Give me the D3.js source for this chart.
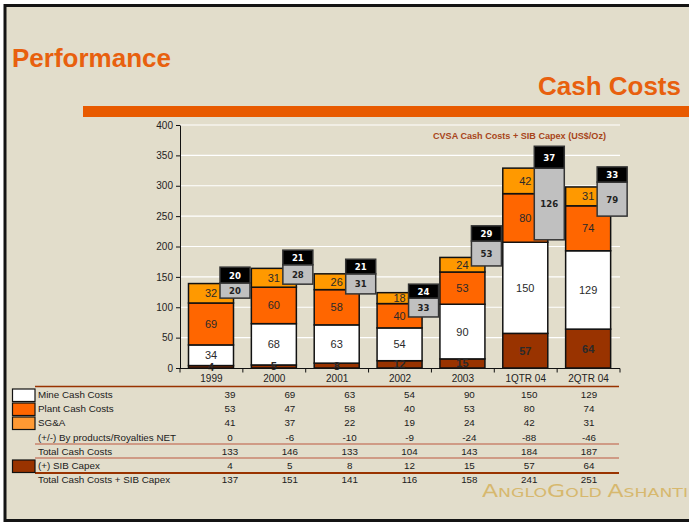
<!DOCTYPE html>
<html>
<head>
<meta charset="utf-8">
<script src="https://cdn.jsdelivr.net/npm/d3@7/dist/d3.min.js"></script>
<style>
  body { margin: 0; background: #fff; }
  svg text { font-family: "Liberation Sans", Arial, sans-serif; }
</style>
</head>
<body>
<div id="chart"></div>
<script>
// categories and axis ticks
var categories = ["1999", "2000", "2001", "2002", "2003", "1QTR 04", "2QTR 04"];
var yTicks = [0, 50, 100, 150, 200, 250, 300, 350, 400];

// stacked bar segments as labelled on the chart (bottom to top)
var chartSib = [4, 5, 8, 12, 15, 57, 64];
var chartMine = [34, 68, 63, 54, 90, 150, 129];
var chartPlant = [69, 60, 58, 40, 53, 80, 74];
var chartSga = [32, 31, 26, 18, 24, 42, 31];

// floating grey / black boxes, extents, plus their labels
var greyLow = [115, 138, 122, 84, 168, 211, 250];
var greyHigh = [140, 170, 155, 115, 209, 329, 306];
var blackHigh = [166, 194, 179, 138, 234, 365, 331];
var greyLabels = [20, 28, 31, 33, 53, 126, 79];
var blackLabels = [20, 21, 21, 24, 29, 37, 33];

// table rows
var rowNames = ["Mine Cash Costs", "Plant Cash Costs", "SG&A", "(+/-) By products/Royalties NET",
  "Total Cash Costs", "(+) SIB Capex", "Total Cash Costs + SIB Capex"];
var mineCash = [39, 69, 63, 54, 90, 150, 129];
var plantCash = [53, 47, 58, 40, 53, 80, 74];
var sgaCost = [41, 37, 22, 19, 24, 42, 31];
var byProducts = [0, -6, -10, -9, -24, -88, -46];
var totalCash = [133, 146, 133, 104, 143, 184, 187];
var sibCapex = [4, 5, 8, 12, 15, 57, 64];
var totalWithSib = [137, 151, 141, 116, 158, 241, 251];

var colors = {sib: "#993300", mine: "#ffffff", plant: "#ff6600", sga: "#ff9900"};

var svg = d3.select("#chart").append("svg")
  .attr("width", 689)
  .attr("height", 522);

// slide background + frame
svg.append("rect")
  .attr("x", 5).attr("y", 5.5)
  .attr("width", 700).attr("height", 515)
  .attr("fill", "#e2ddcb")
  .attr("stroke", "#141414")
  .attr("stroke-width", 3);

svg.append("text")
  .attr("x", 12).attr("y", 67)
  .attr("font-size", 26).attr("font-weight", "bold")
  .attr("fill", "#e8600e")
  .text("Performance");

svg.append("text")
  .attr("x", 681).attr("y", 95)
  .attr("text-anchor", "end")
  .attr("font-size", 26).attr("font-weight", "bold")
  .attr("fill", "#e8600e")
  .text("Cash Costs");

svg.append("rect")
  .attr("x", 83).attr("y", 106)
  .attr("width", 606).attr("height", 11)
  .attr("fill", "#e85a00");

// scales
var x = d3.scaleBand().domain(categories).range([180, 620]);
var y = d3.scaleLinear().domain([0, 400]).range([368, 125]);

var mainOffset = 8.5, mainWidth = 45;
var boxOffset = 40, boxWidth = 30;

// gridlines
svg.append("g")
  .selectAll("line")
  .data(yTicks.slice(1))
  .enter()
  .append("line")
    .attr("x1", 180).attr("x2", 620)
    .attr("y1", function(d) { return y(d); })
    .attr("y2", function(d) { return y(d); })
    .attr("stroke", "#ffffff")
    .attr("stroke-width", 1.2);

svg.append("text")
  .attr("x", 433).attr("y", 139)
  .attr("font-size", 9).attr("font-weight", "bold")
  .attr("textLength", 173)
  .attr("lengthAdjust", "spacingAndGlyphs")
  .attr("fill", "#a8451a")
  .text("CVSA Cash Costs + SIB Capex (US$/Oz)");

// stacked bars
var stackData = categories.map(function(c, i) {
  return {cat: c, sib: chartSib[i], mine: chartMine[i], plant: chartPlant[i], sga: chartSga[i]};
});
var series = d3.stack().keys(["sib", "mine", "plant", "sga"])(stackData);

var layers = svg.append("g").selectAll("g")
  .data(series)
  .enter()
  .append("g")
    .attr("fill", function(d) { return colors[d.key]; });

layers.selectAll("rect")
  .data(function(d) { return d; })
  .enter()
  .append("rect")
    .attr("x", function(d) { return x(d.data.cat) + mainOffset; })
    .attr("width", mainWidth)
    .attr("y", function(d) { return y(d[1]); })
    .attr("height", function(d) { return y(d[0]) - y(d[1]); })
    .attr("stroke", "#111")
    .attr("stroke-width", 1.5);

// floating grey + black boxes
var boxes = svg.append("g");
boxes.selectAll("rect.grey")
  .data(categories)
  .enter()
  .append("rect")
    .attr("class", "grey")
    .attr("x", function(d) { return x(d) + boxOffset; })
    .attr("width", boxWidth)
    .attr("y", function(d, i) { return y(greyHigh[i]); })
    .attr("height", function(d, i) { return y(greyLow[i]) - y(greyHigh[i]); })
    .attr("fill", "#c0c0c0")
    .attr("stroke", "#333")
    .attr("stroke-width", 1.5);

boxes.selectAll("rect.black")
  .data(categories)
  .enter()
  .append("rect")
    .attr("class", "black")
    .attr("x", function(d) { return x(d) + boxOffset; })
    .attr("width", boxWidth)
    .attr("y", function(d, i) { return y(blackHigh[i]); })
    .attr("height", function(d, i) { return y(greyHigh[i]) - y(blackHigh[i]); })
    .attr("fill", "#000")
    .attr("stroke", "#333")
    .attr("stroke-width", 1.5);

// segment labels
series.forEach(function(s) {
  svg.append("g").selectAll("text")
    .data(s)
    .enter()
    .append("text")
      .attr("x", function(d) { return x(d.data.cat) + mainOffset + mainWidth / 2; })
      .attr("y", function(d) { return (y(d[0]) + y(d[1])) / 2 + 4; })
      .attr("text-anchor", "middle")
      .attr("font-size", 11)
      .attr("font-weight", s.key === "sib" ? "bold" : "normal")
      .attr("fill", "#2a2a2a")
      .text(function(d) { return d.data[s.key]; });
});

boxes.selectAll("text.grey")
  .data(categories)
  .enter()
  .append("text")
    .attr("x", function(d) { return x(d) + boxOffset + boxWidth / 2; })
    .attr("y", function(d, i) { return (y(greyLow[i]) + y(greyHigh[i])) / 2 + 3.5; })
    .attr("text-anchor", "middle")
    .attr("font-size", 9.5).attr("font-weight", "bold")
    .style("font-family", "'Liberation Sans Narrow', 'DejaVu Sans Condensed', sans-serif")
    .attr("fill", "#222")
    .text(function(d, i) { return greyLabels[i]; });

boxes.selectAll("text.black")
  .data(categories)
  .enter()
  .append("text")
    .attr("x", function(d) { return x(d) + boxOffset + boxWidth / 2; })
    .attr("y", function(d, i) { return (y(greyHigh[i]) + y(blackHigh[i])) / 2 + 3.5; })
    .attr("text-anchor", "middle")
    .attr("font-size", 9.5).attr("font-weight", "bold")
    .style("font-family", "'Liberation Sans Narrow', 'DejaVu Sans Condensed', sans-serif")
    .attr("fill", "#fff")
    .text(function(d, i) { return blackLabels[i]; });

// y axis
var yAxis = d3.axisLeft(y).tickValues(yTicks).tickSize(4).tickSizeOuter(0);
var gy = svg.append("g")
  .attr("transform", "translate(180,0)")
  .call(yAxis);
gy.selectAll("text").attr("font-size", 10).attr("fill", "#222")
  .style("font-family", "'Liberation Sans', Arial, sans-serif");
gy.selectAll("line, path").attr("stroke", "#111");

// x axis: ticks at band edges, labels at band centres
var gx = svg.append("g");
gx.append("line")
  .attr("x1", 180).attr("x2", 620)
  .attr("y1", 368.5).attr("y2", 368.5)
  .attr("stroke", "#111");
gx.selectAll("line.tick")
  .data(categories.concat(["end"]))
  .enter()
  .append("line")
    .attr("x1", function(d, i) { return i < categories.length ? x(d) : x.range()[1]; })
    .attr("x2", function(d, i) { return i < categories.length ? x(d) : x.range()[1]; })
    .attr("y1", 368.5).attr("y2", 372.5)
    .attr("stroke", "#111");
gx.selectAll("text")
  .data(categories)
  .enter()
  .append("text")
    .attr("x", function(d) { return x(d) + x.bandwidth() / 2; })
    .attr("y", 382)
    .attr("text-anchor", "middle")
    .attr("font-size", 10)
    .attr("fill", "#222")
    .text(function(d) { return d; });

// data table
var tableRows = [mineCash, plantCash, sgaCost, byProducts, totalCash, sibCapex, totalWithSib];
var rowY = [398, 412, 426, 440.5, 455, 469, 483];
var col = d3.scalePoint().domain(categories).range([230, 589]);

var rules = [
  {y: 386.5, color: "#993300", w: 1.5},
  {y: 444, color: "#cf9a85", w: 2},
  {y: 458, color: "#cf9a85", w: 2},
  {y: 473, color: "#993300", w: 2}
];
svg.append("g").selectAll("line")
  .data(rules)
  .enter()
  .append("line")
    .attr("x1", 35).attr("x2", 619)
    .attr("y1", function(d) { return d.y; })
    .attr("y2", function(d) { return d.y; })
    .attr("stroke", function(d) { return d.color; })
    .attr("stroke-width", function(d) { return d.w; });

var swatches = [
  {row: 0, color: colors.mine},
  {row: 1, color: colors.plant},
  {row: 2, color: "#ff9933"},
  {row: 5, color: colors.sib}
];
svg.append("g").selectAll("rect")
  .data(swatches)
  .enter()
  .append("rect")
    .attr("x", 12.5).attr("width", 22.5)
    .attr("y", function(d) { return rowY[d.row] - 9; })
    .attr("height", 12.5)
    .attr("fill", function(d) { return d.color; })
    .attr("stroke", "#111")
    .attr("stroke-width", 1.2);

var table = svg.append("g").attr("font-size", 9.8).attr("fill", "#1a1a1a");
tableRows.forEach(function(row, r) {
  table.append("text")
    .attr("x", 38).attr("y", rowY[r])
    .text(rowNames[r]);
  table.append("g").selectAll("text")
    .data(row)
    .enter()
    .append("text")
      .attr("x", function(d, i) { return col(categories[i]); })
      .attr("y", rowY[r])
      .attr("text-anchor", "middle")
      .text(function(d) { return d; });
});

// logo
var logo = svg.append("text")
  .attr("x", 482).attr("y", 497)
  .attr("textLength", 206)
  .attr("lengthAdjust", "spacingAndGlyphs")
  .attr("fill", "#d6b565")
  .attr("opacity", 0.9)
  .style("font-family", "'DejaVu Sans', sans-serif");
[["A", 17], ["NGLO", 12.5], ["G", 17], ["OLD", 12.5], [" ", 12.5], ["A", 17], ["SHANTI", 12.5]]
  .forEach(function(p) {
    logo.append("tspan").attr("font-size", p[1]).text(p[0]);
  });
</script>
</body>
</html>
